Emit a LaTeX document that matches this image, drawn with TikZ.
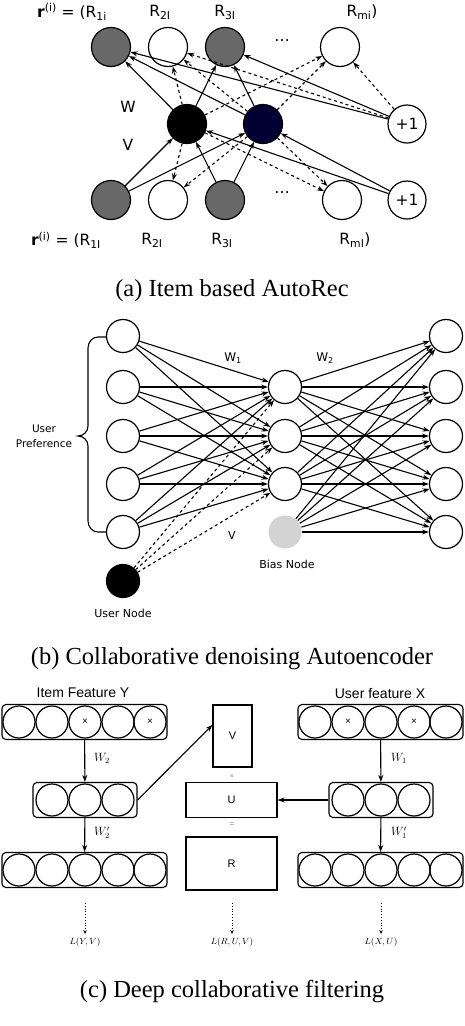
\documentclass[tikz,border=0pt]{standalone}
\usepackage{fontspec}
\setmainfont{Liberation Serif}
\setsansfont{DejaVu Sans}
\newfontfamily\arialf{Liberation Sans}
\usetikzlibrary{arrows.meta}
\definecolor{navyunit}{RGB}{0,0,51}
\definecolor{greyunit}{RGB}{104,104,104}
\definecolor{biasgrey}{RGB}{211,211,211}
\tikzset{
  arr/.style={-{Stealth[length=7pt,width=5pt]},line width=1.1pt},
  unit/.style={circle,draw,line width=1.2pt,minimum size=#1,inner sep=0pt},
  unit/.default=39pt,
  lab/.style={font=\sffamily\fontsize{15.5}{18}\selectfont,inner sep=0pt},
  slab/.style={font=\sffamily\fontsize{11}{13}\selectfont,inner sep=0pt,align=center},
  clab/.style={font=\arialf\fontsize{14}{16}\selectfont,inner sep=0pt},
  bar/.style={draw,rounded corners=4pt,line width=1.1pt,minimum height=35pt,inner sep=0pt},
  mbox/.style={draw,line width=1.1pt,inner sep=0pt,font=\arialf\fontsize{11}{13}\selectfont},
  captext/.style={font=\fontsize{24.5}{28}\selectfont,inner sep=0pt}
}
\begin{document}
\begin{tikzpicture}[x=1pt,y=-1pt]
\useasboundingbox (0,0) rectangle (464,1026);

% (a) Item based AutoRec
\node[unit,fill=greyunit] (t1) at (111,47) {};
\node[unit] (t2) at (168,47) {};
\node[unit,fill=greyunit] (t3) at (225,47) {};
\node[unit] (t4) at (340,47) {};
\node[unit,fill=black] (h1) at (187,124) {};
\node[unit,fill=navyunit] (h2) at (263,124) {};
\node[unit=38pt,lab] (p1) at (407,124) {+1};
\node[unit,fill=greyunit] (b1) at (111,200) {};
\node[unit] (b2) at (168,200) {};
\node[unit,fill=greyunit] (b3) at (225,200) {};
\node[unit] (b4) at (342,200) {};
\node[unit=38pt,lab] (p2) at (407,200) {+1};

\node[lab] (dots1) at (282,41) {\dots};
\node[lab] (dots2) at (282,193) {\dots};
\node[lab] (wa) at (128,107) {W};
\node[lab] (va) at (128,145) {V};

\node[lab] (rt1) at (72,12) {\textbf{r}\textsuperscript{(i)} = (R\textsubscript{1i}};
\node[lab] (rt2) at (160,12) {R\textsubscript{2I}};
\node[lab] (rt3) at (225,12) {R\textsubscript{3I}};
\node[lab] (rtm) at (362,12) {R\textsubscript{mi})};
\node[lab] (rb1) at (66,240) {\textbf{r}\textsuperscript{(i)} = (R\textsubscript{1I}};
\node[lab] (rb2) at (152,240) {R\textsubscript{2I}};
\node[lab] (rb3) at (222,240) {R\textsubscript{3I}};
\node[lab] (rbm) at (355,240) {R\textsubscript{mI})};

\foreach \h in {h1,h2,p1} {
  \draw[arr] (\h) -- (t1);
  \draw[arr,dashed] (\h) -- (t2);
  \draw[arr] (\h) -- (t3);
  \draw[arr,dashed] (\h) -- (t4);
}
\foreach \h in {h1,h2} {
  \draw[arr] (b1) -- (\h);
  \draw[arr,dashed] (\h) -- (b2);
  \draw[arr] (b3) -- (\h);
  \draw[arr,dashed] (\h) -- (b4);
  \draw[arr] (p2) -- (\h);
}
\node[captext] (capa) at (232,291) {(a) Item based AutoRec};

% (b) Collaborative denoising Autoencoder
\foreach \i/\y in {1/336,2/387,3/436,4/484,5/532} {
  \node[unit=33pt] (l\i) at (123,\y) {};
  \node[unit=33pt] (r\i) at (446,\y) {};
}
\foreach \i/\y in {1/387,2/436,3/484}
  \node[unit=33pt] (m\i) at (285,\y) {};
\node[unit=33pt,draw=none,fill=biasgrey] (bias) at (285,532) {};
\node[unit=33pt,fill=black] (user) at (123,581) {};

\foreach \i in {1,...,5}
  \foreach \j in {1,2,3}
    \draw[arr] (l\i) -- (m\j);
\foreach \j in {1,2,3}
  \draw[arr,dashed] (user) -- (m\j);
\foreach \i in {1,2,3}
  \foreach \j in {1,...,5}
    \draw[arr] (m\i) -- (r\j);
\foreach \j in {1,...,5}
  \draw[arr] (bias) -- (r\j);

\draw[line width=1.1pt] (106,337) -- (98,337) to[out=180,in=90] (88,348) -- (88,426)
  to[out=-90,in=0] (78,436) to[out=0,in=90] (88,446) -- (88,521)
  to[out=-90,in=180] (98,532) -- (106,532);
\node[slab,font=\sffamily\fontsize{10.5}{14.5}\selectfont] (pref) at (44,436) {User\\Preference};
\node[slab,font=\sffamily\fontsize{12}{14}\selectfont] (w1) at (233,358) {W\textsubscript{1}};
\node[slab,font=\sffamily\fontsize{12}{14}\selectfont] (w2) at (325,358) {W\textsubscript{2}};
\node[slab] (vb) at (232,535) {V};
\node[slab] (biaslab) at (287,564) {Bias Node};
\node[slab] (userlab) at (123,613) {User Node};
\node[captext] (capb) at (232,659) {(b) Collaborative denoising Autoencoder};

% (c) Deep collaborative filtering
\node[clab] (itemY) at (83,693) {Item Feature Y};
\node[clab] (userX) at (380,693) {User feature X};
\node[bar,minimum width=165pt] (iy1) at (84.5,722) {};
\node[bar,minimum width=104pt] (iy2) at (85,800) {};
\node[bar,minimum width=165pt] (iy3) at (84.5,870) {};
\node[bar,minimum width=165pt] (ux1) at (380.5,722) {};
\node[bar,minimum width=104pt] (ux2) at (381,800) {};
\node[bar,minimum width=165pt] (ux3) at (380.5,870) {};
\foreach \x [count=\k] in {19,52,85,118,150} {
  \node[unit=32pt] (iya\k) at (\x,722) {};
  \node[unit=32pt] (iyc\k) at (\x,870) {};
}
\foreach \x [count=\k] in {315,348,381,414,446} {
  \node[unit=32pt] (uxa\k) at (\x,722) {};
  \node[unit=32pt] (uxc\k) at (\x,870) {};
}
\foreach \x [count=\k] in {52,85,118} {
  \node[unit=32pt] (iyb\k) at (\x,800) {};
  \node[unit=32pt] (uxb\k) at (\x+296,800) {};
}
\foreach \n in {iya3,iya5,uxa2,uxa4}
  \node[font=\arialf\fontsize{10}{11}\selectfont] at (\n) {×};

\node[mbox,minimum width=39pt,minimum height=62pt] (vbox) at (232.5,736) {V};
\node[mbox,minimum width=91pt,minimum height=35pt] (ubox) at (231.5,800) {U};
\node[mbox,minimum width=91pt,minimum height=53pt] (rbox) at (231.5,863.5) {R};
\node[font=\arialf\fontsize{7}{8}\selectfont,text=gray] (times) at (232,777) {×};
\node[font=\arialf\fontsize{8}{9}\selectfont,text=gray] (eq) at (232,825) {=};

\draw[arr] (iy1) -- (iy2);
\draw[arr] (iy2) -- (iy3);
\draw[arr] (ux1) -- (ux2);
\draw[arr] (ux2) -- (ux3);
\draw[arr] (iy2.east) -- (vbox.151);
\draw[arr] (ux2) -- (ubox);
\node[font=\fontsize{12}{14}\selectfont] (wc2) at (102,758) {$W_2$};
\node[font=\fontsize{12}{14}\selectfont] (wc2p) at (102,833) {$W_2'$};
\node[font=\fontsize{12}{14}\selectfont] (wc1) at (399,758) {$W_1$};
\node[font=\fontsize{12}{14}\selectfont] (wc1p) at (399,833) {$W_1'$};

\coordinate (d1) at (85,903);
\coordinate (d2) at (232,903);
\coordinate (d3) at (381,903);
\node[font=\fontsize{9}{10}\selectfont] (ly) at (85,942) {$L(Y,V)$};
\node[font=\fontsize{9}{10}\selectfont] (lr) at (232,942) {$L(R,U,V)$};
\node[font=\fontsize{9}{10}\selectfont] (lx) at (381,942) {$L(X,U)$};
\draw[dotted,line width=0.8pt,-{Stealth[length=4pt,width=3.5pt]}] (d1) -- (ly);
\draw[dotted,line width=0.8pt,-{Stealth[length=4pt,width=3.5pt]}] (d2) -- (lr);
\draw[dotted,line width=0.8pt,-{Stealth[length=4pt,width=3.5pt]}] (d3) -- (lx);
\node[captext] (capc) at (232,992) {(c) Deep collaborative filtering};
\end{tikzpicture}
\end{document}
